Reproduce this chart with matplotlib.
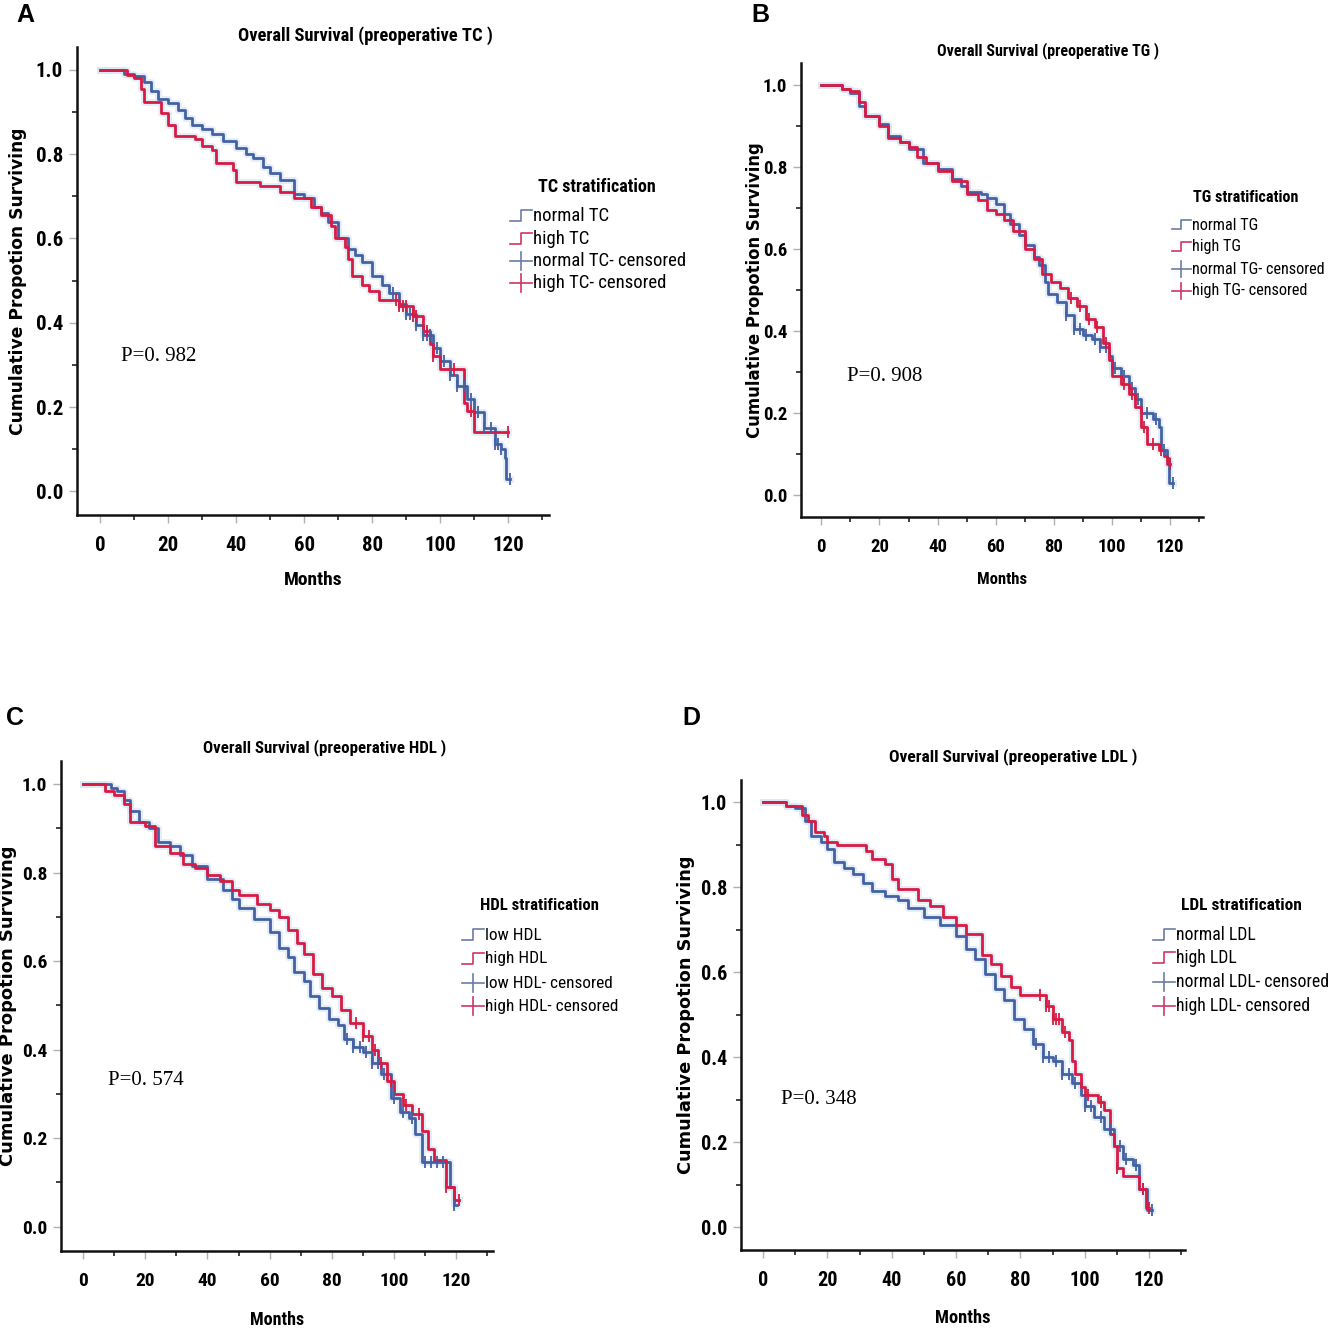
import numpy as np
import matplotlib.pyplot as plt
from matplotlib.lines import Line2D
from matplotlib.ticker import MultipleLocator

# ---- data (months, survival) ----
# A: TC
A_norm_t = [0, 7, 10, 13, 15, 17, 20, 23, 25, 27, 30, 33, 36, 40, 43, 45, 48, 50, 53, 57, 60, 63, 65, 67, 70,
            73, 75, 77, 80, 83, 85, 88, 90, 93, 95, 98, 100, 103, 105, 108, 110, 113, 116, 118, 119, 119.5, 120.5]
A_norm_s = [1.0, .99, .985, .97, .95, .93, .92, .905, .885, .87, .86, .847, .83, .814, .80, .79, .77, .755, .738,
            .706, .696, .675, .66, .64, .60, .575, .56, .545, .51, .49, .47, .445, .42, .395, .372, .34, .31, .275,
            .249, .22, .188, .15, .113, .10, .08, .03, .03]
A_norm_c = [86, 88, 90, 91, 93, 95, 96, 97, 99, 101, 103, 105, 107, 109, 111, 113, 115, 116, 117, 118, 120.5]
A_high_t = [0, 8, 10, 12, 13, 18, 20, 22, 28, 30, 33, 34, 39, 40, 47, 53, 57, 62, 65, 68, 69, 72, 73, 74, 77,
            79, 82, 88, 92, 95, 97, 98, 100, 107, 108, 110, 120]
A_high_s = [1.0, .988, .98, .955, .924, .898, .87, .842, .835, .82, .81, .78, .762, .734, .725, .71, .695, .675,
            .655, .63, .60, .58, .55, .51, .49, .475, .455, .44, .415, .38, .35, .32, .29, .21, .19, .14, .14]
A_high_c = [87, 88, 89, 90, 92, 93, 96, 98, 104, 109, 120]

# B: TG
B_norm_t = [0, 7, 10, 13, 15, 20, 23, 27, 30, 35, 40, 45, 48, 50, 55, 57, 60, 63, 65, 68, 70, 73, 75, 77, 78,
            81, 84, 87, 90, 93, 96, 99, 100, 103, 106, 108, 110, 114, 116, 117, 119, 119.5, 121]
B_norm_s = [1.0, .99, .98, .95, .925, .905, .875, .86, .845, .81, .795, .77, .755, .74, .735, .725, .71, .685,
            .66, .635, .61, .58, .56, .52, .49, .47, .44, .405, .39, .38, .36, .34, .31, .29, .26, .235, .20,
            .185, .165, .11, .09, .03, .03]
B_norm_c = [84, 87, 89, 91, 94, 96, 98, 101, 104, 107, 109, 112, 115, 118, 121]
B_high_t = [0, 7, 10, 13, 15, 20, 23, 27, 30, 33, 36, 40, 45, 50, 54, 57, 60, 63, 66, 70, 73, 76, 79, 82, 85,
            88, 91, 94, 97, 99, 100, 103, 106, 108, 110, 112, 116, 118, 119, 120]
B_high_s = [1.0, .99, .985, .96, .925, .90, .87, .86, .85, .825, .81, .79, .765, .735, .72, .695, .685, .67,
            .645, .60, .575, .54, .52, .505, .48, .46, .43, .41, .37, .33, .29, .27, .245, .215, .165, .125,
            .11, .095, .075, .075]
B_high_c = [86, 89, 92, 95, 98, 104, 107, 111, 114, 117, 120]

# C: HDL
C_low_t = [0, 9, 11, 13, 15, 18, 21, 24, 28, 31, 35, 40, 45, 48, 50, 55, 60, 63, 66, 68, 71, 73, 76, 79, 82,
           84, 87, 90, 93, 96, 99, 102, 105, 107, 109, 118, 119.5, 120.5]
C_low_s = [1.0, .99, .985, .965, .94, .915, .90, .87, .86, .84, .815, .785, .76, .74, .72, .695, .665, .63, .61,
           .575, .555, .52, .495, .47, .455, .425, .405, .395, .37, .345, .29, .26, .245, .21, .145, .09, .05, .05]
C_low_c = [85, 87, 89, 91, 93, 95, 97, 100, 103, 106, 110, 112, 114, 116, 119.5]
C_high_t = [0, 7, 10, 13, 15, 20, 23, 28, 32, 36, 40, 44, 48, 50, 56, 60, 63, 66, 69, 71, 74, 77, 80, 83, 86,
            90, 93, 95, 98, 100, 103, 106, 109, 111, 113, 117, 119.5, 121]
C_high_s = [1.0, .985, .975, .955, .915, .905, .86, .845, .82, .81, .795, .78, .76, .75, .73, .715, .70, .67,
            .64, .615, .57, .54, .52, .49, .46, .43, .40, .37, .33, .30, .275, .255, .215, .175, .15, .09, .06, .06]
C_high_c = [88, 90, 92, 94, 96, 99, 104, 108, 117, 121]

# D: LDL
D_norm_t = [0, 7, 10, 13, 15, 18, 20, 22, 25, 28, 31, 34, 38, 42, 45, 50, 55, 60, 63, 66, 69, 72, 75, 78, 81,
            84, 87, 90, 93, 96, 99, 100, 103, 106, 109, 112, 115, 117, 119.5, 121]
D_norm_s = [1.0, .99, .985, .955, .92, .905, .89, .86, .845, .83, .81, .79, .78, .77, .75, .73, .71, .685, .655,
            .63, .595, .56, .535, .49, .465, .43, .40, .39, .36, .34, .31, .285, .26, .23, .19, .16, .145, .09,
            .04, .04]
D_norm_c = [85, 87, 89, 91, 93, 95, 97, 100, 102, 105, 108, 111, 113, 116, 118, 121]
D_high_t = [0, 7, 12, 14, 16, 19, 20, 23, 32, 34, 38, 40, 42, 48, 52, 56, 60, 63, 68, 71, 74, 77, 80, 88, 90,
            93, 95, 96, 97, 99, 100, 104, 106, 108, 109, 110, 112, 117, 119, 120]
D_high_s = [1.0, .99, .97, .955, .93, .92, .905, .90, .885, .865, .855, .82, .795, .77, .755, .73, .71, .69, .64,
            .62, .59, .565, .545, .52, .49, .46, .44, .39, .36, .33, .31, .295, .275, .22, .19, .14, .12, .09,
            .045, .045]
D_high_c = [86, 88, 89, 90, 91, 92, 94, 101, 105, 110, 118, 120]

titles = ['Overall Survival (preoperative TC )', 'Overall Survival (preoperative TG )',
          'Overall Survival (preoperative HDL )', 'Overall Survival (preoperative LDL )']
leg_titles = ['TC stratification', 'TG stratification', 'HDL stratification', 'LDL stratification']
leg_labels = [['normal TC', 'high TC', 'normal TC- censored', 'high TC- censored'],
              ['normal TG', 'high TG', 'normal TG- censored', 'high TG- censored'],
              ['low HDL', 'high HDL', 'low HDL- censored', 'high HDL- censored'],
              ['normal LDL', 'high LDL', 'normal LDL- censored', 'high LDL- censored']]
p_values = ['P=0. 982', 'P=0. 908', 'P=0. 574', 'P=0. 348']
letters = ['A', 'B', 'C', 'D']

BLUE = '#4561a3'
RED = '#d81b42'
NARROW = ['Roboto Condensed', 'Open Sans Condensed', 'Liberation Sans Narrow', 'DejaVu Sans']

W, H = 1333, 1334
fig = plt.figure(figsize=(W / 100, H / 100), dpi=100)


def fx(x):
    return x / W


def fy(y):
    return 1 - y / H


def step_at(t, s, c):
    idx = np.searchsorted(t, c, side='right') - 1
    return np.asarray(s)[idx]


# layout in pixels: axes box, limits, title, letter, legend, p-value, label offsets; font sizes per panel
layout = [
    dict(box=(77, 47, 549, 515), xlim=(-6.8, 132), ylim=(-0.056, 1.054), title=(365, 36), letter=(25, 15),
         leg=(597, 187, 510, [216, 239, 261, 283]), p=(6, 0.32), ylab=18, xlab=-0.12,
         fs=dict(tick=15, ylab=12.3, xlab=14, title=13.3, legt=13, leg=13.5), hs=1.0),
    dict(box=(801, 63, 1203, 517), xlim=(-7.0, 131.3), ylim=(-0.054, 1.054), title=(1048, 51), letter=(760, 15),
         leg=(1246, 197, 1172, [225, 247, 269, 291]), p=(8.7, 0.29), ylab=755, xlab=-0.121,
         fs=dict(tick=13.5, ylab=11.9, xlab=12, title=11.5, legt=11.6, leg=11.7), hs=0.85),
    dict(box=(61, 761, 493, 1251), xlim=(-7.2, 132), ylim=(-0.055, 1.052), title=(325, 748), letter=(15, 718),
         leg=(539, 905, 462, [935, 959, 983, 1006]), p=(8, 0.33), ylab=8, xlab=-0.122,
         fs=dict(tick=14, ylab=12.9, xlab=13, title=12.2, legt=12.1, leg=12.4), hs=1.0),
    dict(box=(741, 780, 1185, 1250), xlim=(-6.9, 131.2), ylim=(-0.054, 1.052), title=(1013, 757), letter=(691, 718),
         leg=(1241, 905, 1153, [935, 958, 982, 1006]), p=(5.6, 0.30), ylab=686, xlab=-0.126,
         fs=dict(tick=14.5, ylab=12.8, xlab=13.3, title=12.6, legt=12.5, leg=12.8), hs=1.0),
]

curves = [
    (A_norm_t, A_norm_s, A_norm_c, A_high_t, A_high_s, A_high_c),
    (B_norm_t, B_norm_s, B_norm_c, B_high_t, B_high_s, B_high_c),
    (C_low_t, C_low_s, C_low_c, C_high_t, C_high_s, C_high_c),
    (D_norm_t, D_norm_s, D_norm_c, D_high_t, D_high_s, D_high_c),
]

for k in range(4):
    L = layout[k]
    fs = L['fs']
    l, t, r, b = L['box']
    ax = fig.add_axes([fx(l), fy(b), (r - l) / W, (b - t) / H])
    t1, s1, c1, t2, s2, c2 = curves[k]
    for tt, ss in [(t1, s1), (t2, s2)]:
        ax.step(tt, ss, where='post', color='#d3e4f5', lw=5, alpha=0.6, zorder=1)
    for tt, ss, cc, col in [(t1, s1, c1, BLUE), (t2, s2, c2, RED)]:
        ax.step(tt, ss, where='post', color=col, lw=2, zorder=3)
        ax.plot(cc, step_at(tt, ss, cc), ls='none', marker='|', ms=8, mew=1.3, color=col, zorder=4)

    ax.set_xlim(*L['xlim'])
    ax.set_ylim(*L['ylim'])
    ax.spines['top'].set_visible(False)
    ax.spines['right'].set_visible(False)
    for sp in ['left', 'bottom']:
        ax.spines[sp].set_linewidth(1.8)
        ax.spines[sp].set_color('#111111')
    ax.xaxis.set_major_locator(MultipleLocator(20))
    ax.xaxis.set_minor_locator(MultipleLocator(10))
    ax.yaxis.set_major_locator(MultipleLocator(0.2))
    ax.yaxis.set_minor_locator(MultipleLocator(0.1))
    ax.yaxis.set_major_formatter(plt.FuncFormatter(lambda v, pos: f'{v:.1f}'))
    ax.tick_params(which='major', direction='out', length=6, width=1.0, color='#b0b0b0', pad=4)
    ax.tick_params(axis='x', which='major', pad=9)
    ax.tick_params(which='minor', direction='out', length=3.5, width=1.3, color='#333333')
    for lab in ax.get_xticklabels() + ax.get_yticklabels():
        lab.set_family(NARROW)
        lab.set_fontsize(fs['tick'])
        lab.set_fontweight('bold')

    ax.set_ylabel('Cumulative Propotion Surviving', fontsize=fs['ylab'], fontweight='bold',
                  family='DejaVu Sans', va='center')
    ax.yaxis.set_label_coords((L['ylab'] - l) / (r - l), 0.5)
    ax.set_xlabel('Months', fontsize=fs['xlab'], fontweight='bold', family=NARROW)
    ax.xaxis.set_label_coords(0.5, L['xlab'])

    ax.text(L['p'][0], L['p'][1], p_values[k], fontsize=15, family=['Liberation Serif', 'DejaVu Serif'],
            ha='left', va='center')

    fig.text(fx(L['title'][0]), fy(L['title'][1]), titles[k], ha='center', va='center',
             fontsize=fs['title'], fontweight='bold', family=NARROW)
    fig.text(fx(L['letter'][0]), fy(L['letter'][1]), letters[k], ha='center', va='center',
             fontsize=18, fontweight='bold', family=['Liberation Sans', 'DejaVu Sans'])

    # legend, drawn by hand to match the SPSS style
    tx, ty, hx, rows = L['leg']
    hs = L['hs']
    fig.text(fx(tx), fy(ty), leg_titles[k], ha='center', va='center', fontsize=fs['legt'], fontweight='bold',
             family=NARROW)
    for i, (yy, lab) in enumerate(zip(rows, leg_labels[k])):
        col = ['#6a7ba6', '#cf3563', '#6a7ba6', '#cf3563'][i]
        if i < 2:
            xs = [hx, hx + 11 * hs, hx + 11 * hs, hx + 22 * hs]
            ys = [yy + 5 * hs, yy + 5 * hs, yy - 6 * hs, yy - 6 * hs]
            fig.add_artist(Line2D([fx(v) for v in xs], [fy(v) for v in ys], color=col, lw=1.2,
                                  transform=fig.transFigure))
        else:
            fig.add_artist(Line2D([fx(hx), fx(hx + 22 * hs)], [fy(yy), fy(yy)], color=col, lw=1.2,
                                  transform=fig.transFigure))
            fig.add_artist(Line2D([fx(hx + 11 * hs), fx(hx + 11 * hs)], [fy(yy - 9 * hs), fy(yy + 9 * hs)],
                                  color=col, lw=1.2, transform=fig.transFigure))
        fig.text(fx(hx + 23 * hs), fy(yy), lab, ha='left', va='center', fontsize=fs['leg'], family=NARROW)

fig.savefig('out.png', dpi=100)
